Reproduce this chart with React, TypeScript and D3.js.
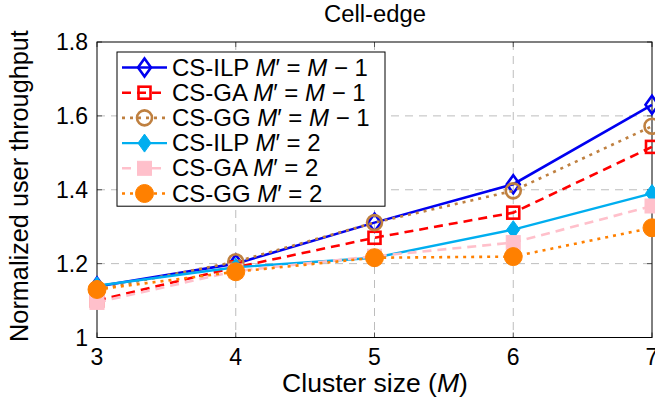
import React, { useEffect, useRef } from "react";
import * as d3 from "d3";

const clusterSizes = [3, 4, 5, 6, 7];
const yTicks = [1, 1.2, 1.4, 1.6, 1.8];

const ilpM1 = [1.138, 1.2, 1.311, 1.415, 1.63];
const gaM1 = [1.1, 1.19, 1.27, 1.338, 1.516];
const ggM1 = [1.13, 1.205, 1.311, 1.397, 1.572];
const ilp2 = [1.14, 1.19, 1.216, 1.292, 1.39];
const ga2 = [1.095, 1.18, 1.22, 1.257, 1.356];
const gg2 = [1.13, 1.178, 1.216, 1.219, 1.297];

const seriesNames = ["CS-ILP", "CS-GA", "CS-GG", "CS-ILP", "CS-GA", "CS-GG"];
const seriesSuffix = ["M − 1", "M − 1", "M − 1", "2", "2", "2"];

// no serif face is installed, so a sans is used and sized to the reference text widths
const FONT = '"Liberation Sans", Arial, sans-serif';

const App = () => {
  const svgRef = useRef<SVGSVGElement>(null);

  useEffect(() => {
    const w = 655;
    const h = 403;
    const left = 97, right = 652, top = 42, bottom = 337.5;

    const svg = d3.select(svgRef.current).attr("width", w).attr("height", h)
      .style("font-family", FONT);
    svg.selectAll("*").remove();

    // scale a text's font size so it spans the wanted width
    const fit = (sel: any, target: number) => {
      const len = sel.node().getComputedTextLength();
      const fs = +sel.attr("font-size");
      if (len > 0) sel.attr("font-size", (fs * target) / len);
      return +sel.attr("font-size");
    };

    const x = d3.scaleLinear().domain([3, 7]).range([left, right]);
    const y = d3.scaleLinear().domain([1, 1.8]).range([bottom, top]);

    // grid
    svg.append("g")
      .selectAll("line")
      .data(clusterSizes.slice(1, -1))
      .join("line")
      .attr("x1", d => x(d)).attr("x2", d => x(d))
      .attr("y1", top).attr("y2", bottom)
      .attr("stroke", "#bdbdbd").attr("stroke-width", 1)
      .attr("stroke-dasharray", "8,6");
    svg.append("g")
      .selectAll("line")
      .data(yTicks.slice(1, -1))
      .join("line")
      .attr("x1", left).attr("x2", right)
      .attr("y1", d => y(d)).attr("y2", d => y(d))
      .attr("stroke", "#bdbdbd").attr("stroke-width", 1)
      .attr("stroke-dasharray", "8,6");

    // ticks inside
    const tk = svg.append("g").attr("stroke", "#555").attr("stroke-width", 1);
    clusterSizes.forEach(v => {
      tk.append("line").attr("x1", x(v)).attr("x2", x(v)).attr("y1", bottom).attr("y2", bottom - 5);
      tk.append("line").attr("x1", x(v)).attr("x2", x(v)).attr("y1", top).attr("y2", top + 5);
    });
    yTicks.forEach(v => {
      tk.append("line").attr("x1", left).attr("x2", left + 5).attr("y1", y(v)).attr("y2", y(v));
      tk.append("line").attr("x1", right).attr("x2", right - 5).attr("y1", y(v)).attr("y2", y(v));
    });

    // frame
    svg.append("rect")
      .attr("x", left).attr("y", top)
      .attr("width", right - left).attr("height", bottom - top)
      .attr("fill", "none").attr("stroke", "#000").attr("stroke-width", 1);

    // tick labels
    svg.append("g")
      .selectAll("text")
      .data(clusterSizes)
      .join("text")
      .attr("x", d => x(d)).attr("y", bottom + 27)
      .attr("text-anchor", "middle")
      .attr("font-size", 23)
      .text(d => d);
    svg.append("g")
      .selectAll("text")
      .data(yTicks)
      .join("text")
      .attr("x", left - 9).attr("y", d => y(d) + 8)
      .attr("text-anchor", "end")
      .attr("font-size", 23)
      .text(d => (d === 1 ? "1" : d.toFixed(1)));

    // title and axis labels
    const title = svg.append("text")
      .attr("x", 375).attr("y", 22)
      .attr("text-anchor", "middle")
      .attr("font-size", 22)
      .text("Cell-edge");
    fit(title, 102);

    const xl = svg.append("text")
      .attr("x", 375).attr("y", 392)
      .attr("text-anchor", "middle")
      .attr("font-size", 22);
    xl.append("tspan").text("Cluster size (");
    xl.append("tspan").attr("font-style", "italic").text("M");
    xl.append("tspan").text(")");
    fit(xl, 186);

    const yl = svg.append("text")
      .attr("transform", `translate(28, 186) rotate(-90)`)
      .attr("text-anchor", "middle")
      .attr("font-size", 22)
      .text("Normalized user throughput");
    fit(yl, 312);

    const series = [
      { data: ilpM1, color: "#0000f0", dash: null, width: 2.6, marker: "diamond", fill: false },
      { data: gaM1, color: "#ff0000", dash: "9,6", width: 2.6, marker: "square", fill: false },
      { data: ggM1, color: "#bf8040", dash: "3,5", width: 2.6, marker: "circle", fill: false },
      { data: ilp2, color: "#00aeef", dash: null, width: 2.4, marker: "diamond", fill: true },
      { data: ga2, color: "#ffc0cb", dash: "9,6", width: 2.6, marker: "square", fill: true },
      { data: gg2, color: "#ff8000", dash: "3,5", width: 2.6, marker: "circle", fill: true },
    ];

    const line = d3.line<number>()
      .x((_, i) => x(clusterSizes[i]))
      .y(d => y(d));

    const drawMarker = (g: any, kind: string, fill: boolean, color: string, cx: number, cy: number) => {
      if (kind === "diamond") {
        g.append("path")
          .attr("d", `M${cx},${cy - 9} L${cx + 6.5},${cy} L${cx},${cy + 9} L${cx - 6.5},${cy} Z`)
          .attr("fill", fill ? color : "none")
          .attr("stroke", color).attr("stroke-width", fill ? 1 : 2.6);
      } else if (kind === "square") {
        const s = fill ? 14 : 12;
        g.append("rect")
          .attr("x", cx - s / 2).attr("y", cy - s / 2)
          .attr("width", s).attr("height", s)
          .attr("fill", fill ? color : "none")
          .attr("stroke", color).attr("stroke-width", fill ? 1 : 2.6);
      } else {
        g.append("circle")
          .attr("cx", cx).attr("cy", cy)
          .attr("r", fill ? 9 : 7.5)
          .attr("fill", fill ? color : "none")
          .attr("stroke", color).attr("stroke-width", fill ? 1 : 2.6);
      }
    };

    series.forEach(s => {
      const g = svg.append("g");
      g.append("path")
        .attr("d", line(s.data))
        .attr("fill", "none")
        .attr("stroke", s.color)
        .attr("stroke-width", s.width)
        .attr("stroke-dasharray", s.dash);
      s.data.forEach((v, i) => drawMarker(g, s.marker, s.fill, s.color, x(clusterSizes[i]), y(v)));
    });

    // legend
    const lg = svg.append("g");
    const lx = 117, ly = 52, lw = 268, rowH = 25.2;
    lg.append("rect")
      .attr("x", lx).attr("y", ly)
      .attr("width", lw).attr("height", rowH * 6 + 3)
      .attr("fill", "#fff").attr("stroke", "#000").attr("stroke-width", 1);
    const labels: any[] = [];
    series.forEach((s, i) => {
      const cy = ly + 15.5 + i * rowH;
      lg.append("line")
        .attr("x1", lx + 5).attr("x2", lx + 50)
        .attr("y1", cy).attr("y2", cy)
        .attr("stroke", s.color).attr("stroke-width", s.width)
        .attr("stroke-dasharray", s.dash);
      drawMarker(lg, s.marker, s.fill, s.color, lx + 27.5, cy);
      const t = lg.append("text")
        .attr("x", lx + 55).attr("y", cy + 8)
        .attr("font-size", 20);
      t.append("tspan").text(seriesNames[i] + " ");
      t.append("tspan").attr("font-style", "italic").text("M");
      t.append("tspan").text("′ = ");
      if (seriesSuffix[i] === "2") {
        t.append("tspan").text("2");
      } else {
        t.append("tspan").attr("font-style", "italic").text("M");
        t.append("tspan").text(" − 1");
      }
      labels.push(t);
    });
    const legendSize = Math.min(fit(labels[0], 196), 24);
    labels.forEach(t => t.attr("font-size", legendSize));
  }, []);

  return <svg ref={svgRef} style={{ position: "absolute", left: 0, top: 0 }} />;
};

export default App;
